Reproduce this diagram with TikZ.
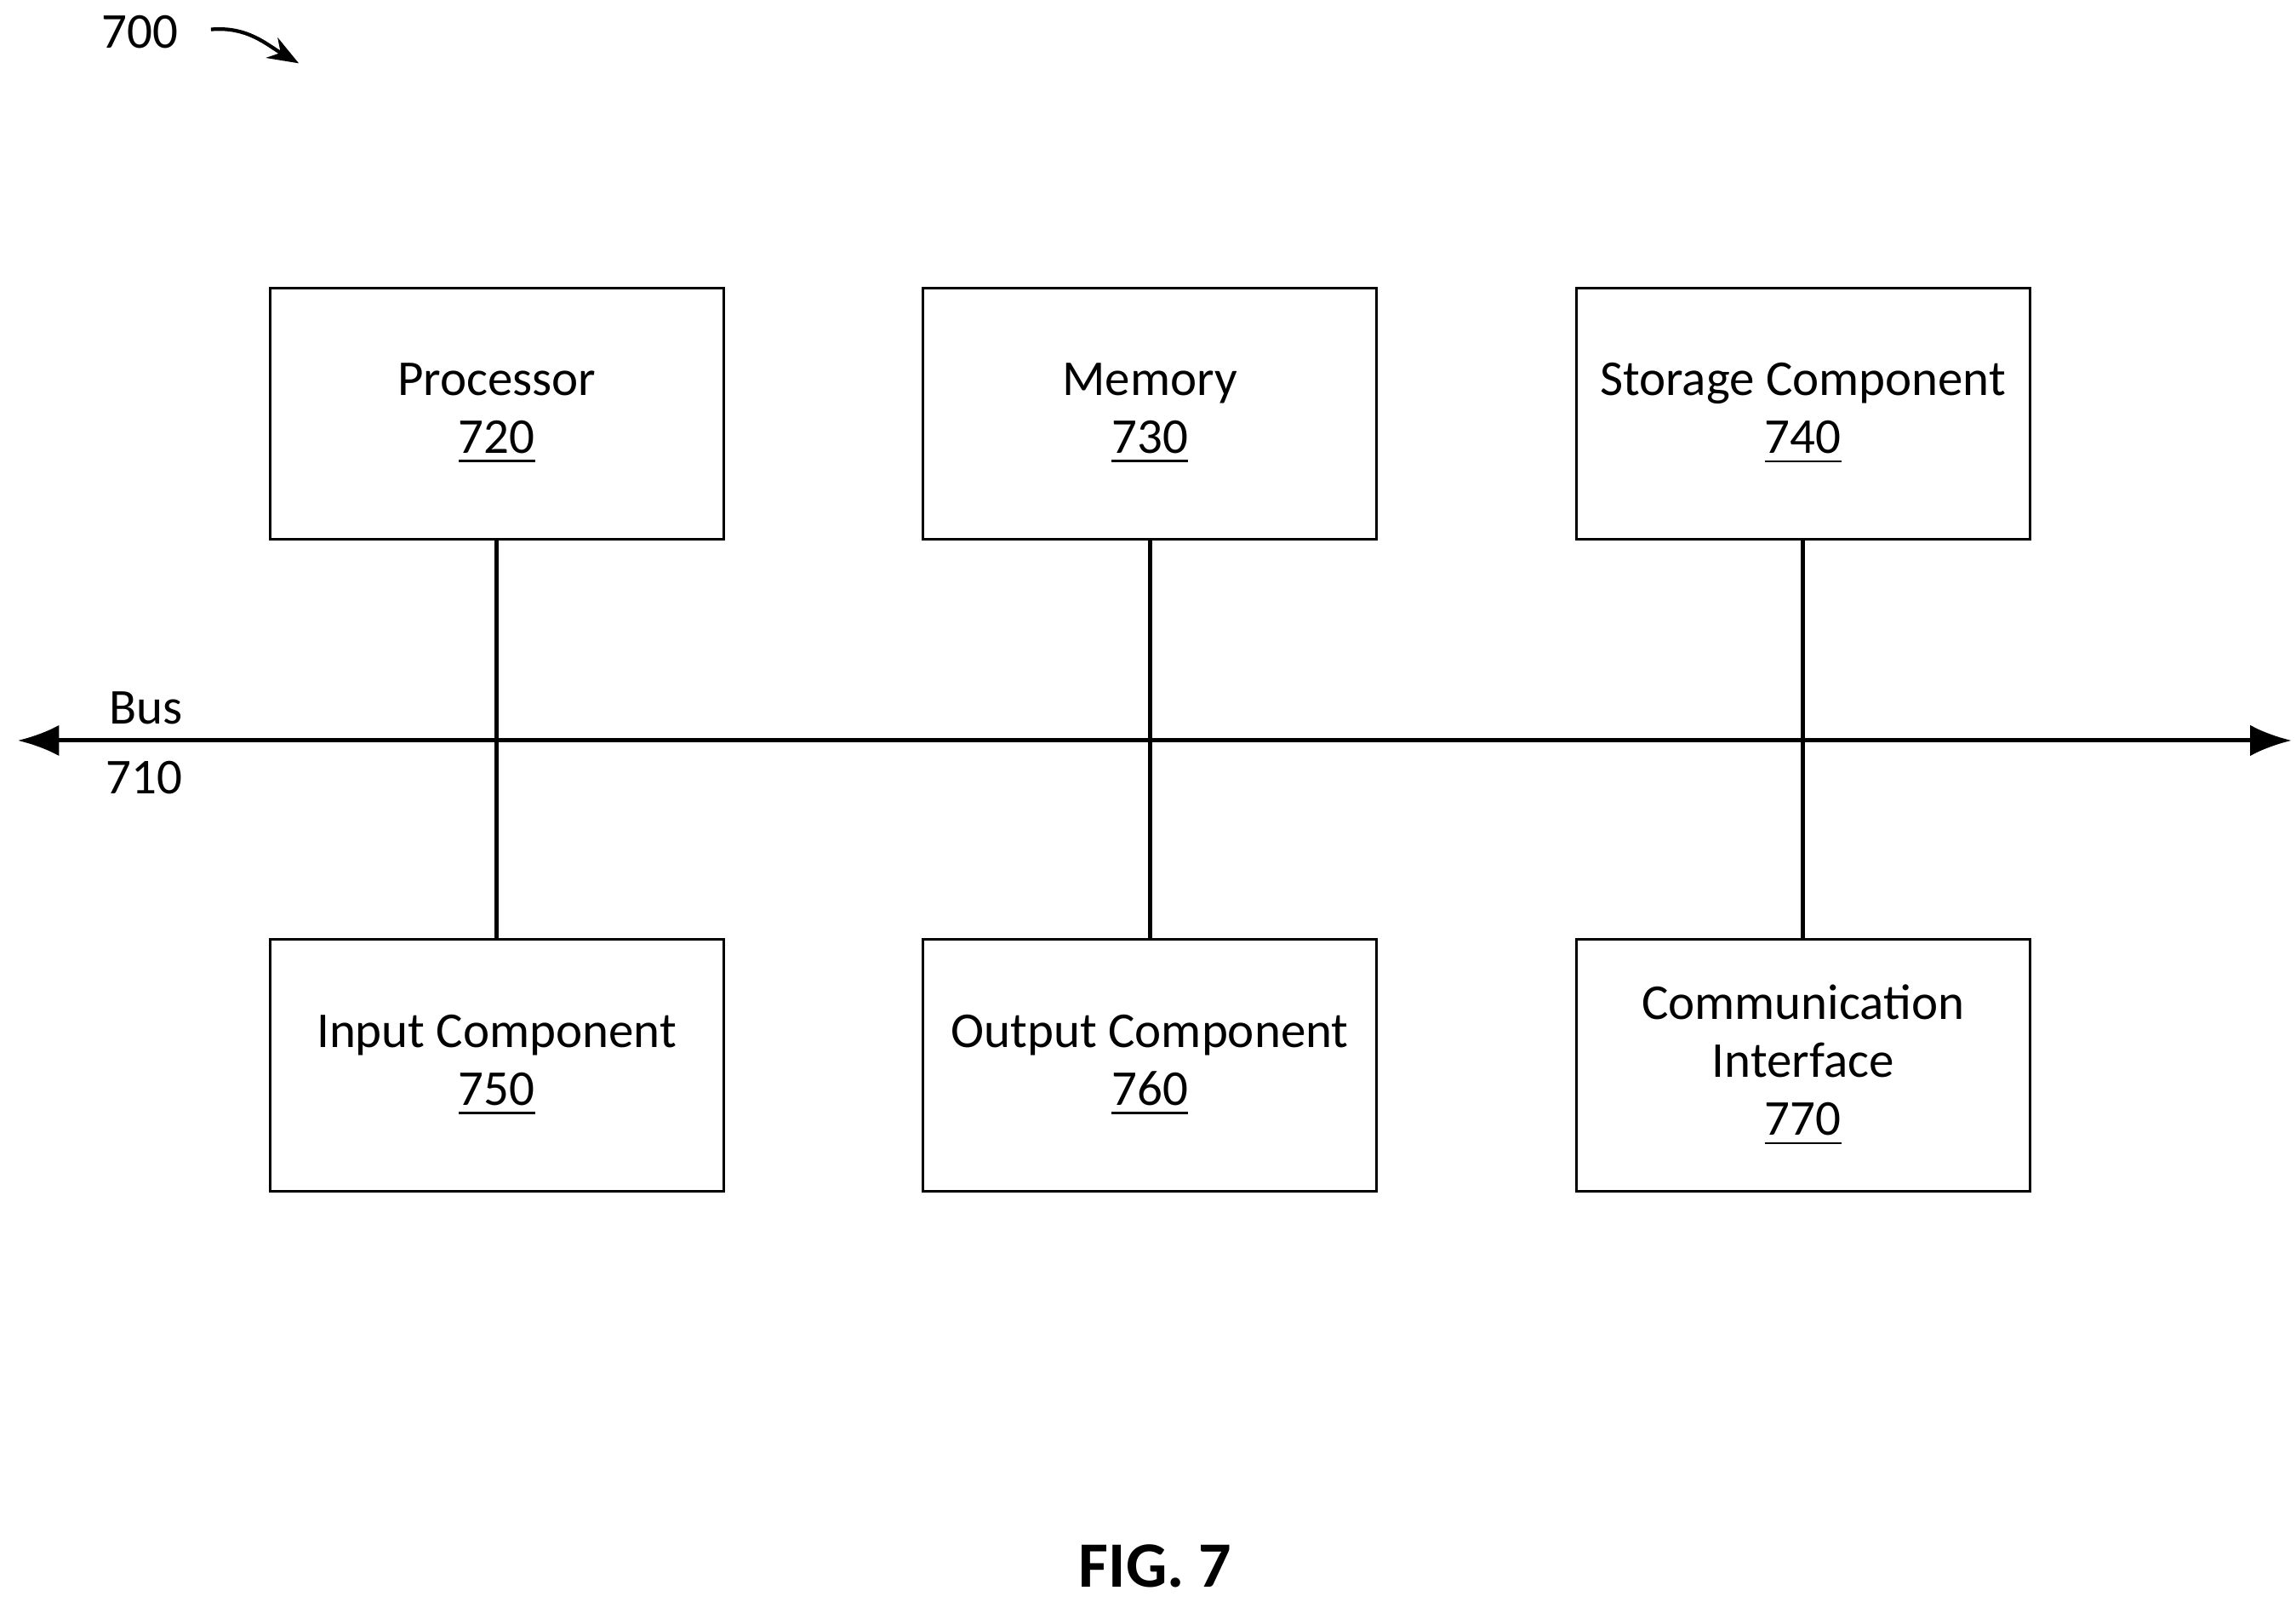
\documentclass[tikz,border=0pt]{standalone}
\usepackage{fontspec}
\setmainfont{Carlito}
\usetikzlibrary{positioning,arrows.meta}

\begin{document}
\begin{tikzpicture}[x=1cm,y=1cm,
    font=\fontsize{9.7}{11.2}\selectfont,
    block/.style={draw, line width=0.5pt, minimum width=3.08cm, minimum height=1.71cm,
                  align=center, inner sep=0pt},
    link/.style={line width=0.8pt}]

  \useasboundingbox (0,0) rectangle (15.6,10.88);

  % ── Top row ─────────────────────────────────
  \node[block] (proc) at (3.375,8.07) {Processor\\\underline{720}};
  \node[block, right=1.34cm of proc] (mem)  {Memory\\\underline{730}};
  \node[block, right=1.34cm of mem]  (stor) {Storage Component\\\underline{740}};

  % ── Bottom row ──────────────────────────────
  \node[block, below=2.70cm of proc] (inp) {Input Component\\\underline{750}};
  \node[block, below=2.70cm of mem]  (outp) {Output Component\\\underline{760}};
  \node[block, below=2.70cm of stor] (comm) {Communication\\Interface\\\underline{770}};

  % ── Bus ─────────────────────────────────────
  \coordinate (busL) at (0.12,5.85);
  \coordinate (busR) at (15.57,5.85);
  \draw[link, {Latex[length=8pt,width=6pt]}-{Latex[length=8pt,width=6pt]}] (busL) -- (busR);
  \node (buslbl) at (0.99,6.07) {Bus};
  \node (busnum) at (0.98,5.6) {710};

  % ── Connections ─────────────────────────────
  \draw[link] (proc) -- (inp);
  \draw[link] (mem) -- (outp);
  \draw[link] (stor) -- (comm);

  % ── Labels ──────────────────────────────────
  \node (fignum) at (0.95,10.66) {700};
  \coordinate (figtip) at (2.03,10.45);
  \draw[line width=0.7pt, -{Stealth[length=6pt]}] (fignum.east) ++(0.1,0.02) to[out=5, in=150] (figtip);
  \node[font=\fontsize{12.5}{15}\selectfont\bfseries] (cap) at (7.85,0.24) {FIG. 7};

\end{tikzpicture}
\end{document}
